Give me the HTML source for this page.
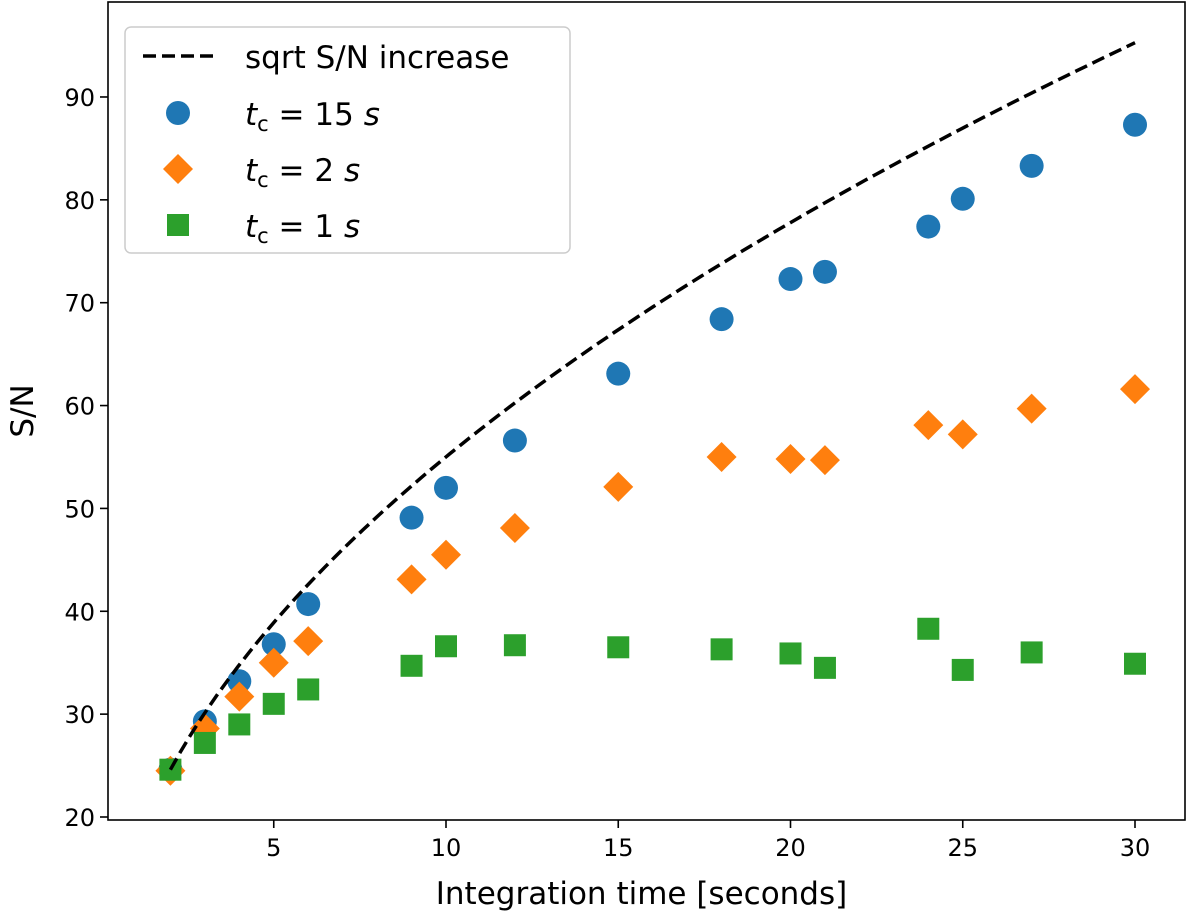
<!DOCTYPE html>
<html><head><meta charset="utf-8"><style>
body{margin:0;background:#fff;}
svg text{font-family:"DejaVu Sans","Liberation Sans",sans-serif;fill:#000;}
</style></head><body>
<svg id="chart" width="1200" height="913" viewBox="0 0 1200 913" xmlns="http://www.w3.org/2000/svg">
<g id="plot"></g>
</svg>
<script>
const xs = [2,3,4,5,6,9,10,12,15,18,20,21,24,25,27,30];
const blueY = [24.6,29.3,33.2,36.8,40.7,49.1,52.0,56.6,63.1,68.4,72.3,73.0,77.4,80.1,83.3,87.3];
const orangeY = [24.5,28.6,31.7,35.0,37.1,43.1,45.5,48.1,52.1,55.0,54.8,54.7,58.1,57.2,59.7,61.6];
const greenY = [24.6,27.2,29.0,31.0,32.4,34.7,36.6,36.7,36.5,36.3,35.9,34.5,38.3,34.3,36.0,34.9];
const sqrtBase = 24.6;
const xTicks = [5,10,15,20,25,30];
const yTicks = [20,30,40,50,60,70,80,90];

const NS="http://www.w3.org/2000/svg";
const L=108,R=1185,T=2,B=820;
const X=v=>446+(v-10)*34.45;
const Y=v=>817-(v-20)*10.286;
const svg=document.getElementById('plot');
function mk(tag,attrs,parent){const e=document.createElementNS(NS,tag);for(const k in attrs)e.setAttribute(k,attrs[k]);(parent||svg).appendChild(e);return e;}

const fr=mk('rect',{x:L,y:T,width:R-L,height:B-T,fill:'none',stroke:'#000','stroke-width':1.6});



xTicks.forEach(t=>{
  const l=mk('line',{x1:X(t),x2:X(t),y1:B,y2:B+8,stroke:'#000','stroke-width':1.6});
  
  
  const tx=mk('text',{x:X(t),y:B+36,'font-size':24,'text-anchor':'middle'});tx.textContent=t;
  
  
});
yTicks.forEach(t=>{
  const l=mk('line',{x1:L-8,x2:L,y1:Y(t),y2:Y(t),stroke:'#000','stroke-width':1.6});
  
  
  const tx=mk('text',{x:L-13,y:Y(t)+9,'font-size':24,'text-anchor':'end'});tx.textContent=t;
  
  
});
const xl=mk('text',{x:(L+R)/2-5,y:904,'font-size':31,'text-anchor':'middle'});xl.textContent='Integration time [seconds]';


const yl=mk('text',{x:0,y:0,'font-size':31,'text-anchor':'middle',transform:'translate(33,411) rotate(-90)'});yl.textContent='S/N';



function circle(cx,cy,g){return mk('circle',{cx:cx,cy:cy,r:12,fill:'#1f77b4'},g);}
function diamond(cx,cy,g){const s=15;return mk('polygon',{points:`${cx},${cy-s} ${cx+s},${cy} ${cx},${cy+s} ${cx-s},${cy}`,fill:'#ff7f0e'},g);}
function square(cx,cy,g){const s=11;return mk('rect',{x:cx-s,y:cy-s,width:2*s,height:2*s,fill:'#2ca02c'},g);}

const series=[[blueY,circle,'blue'],[orangeY,diamond,'orange'],[greenY,square,'green']];
series.forEach(([ys,f,n])=>{
  const g=mk('g',{});
  
  
  xs.forEach((x,i)=>{const m=f(X(x),Y(ys[i]),g);
    
    });
});

let d='';
for(let i=0;i<=100;i++){const x=2+28*i/100;const y=sqrtBase*Math.sqrt(x/2);d+=(i?'L':'M')+X(x).toFixed(1)+','+Y(y).toFixed(1);}
const p=mk('path',{d:d,fill:'none',stroke:'#000','stroke-width':3.5,'stroke-dasharray':'13,6'});



const lg=mk('g',{});


mk('rect',{x:125,y:27,width:445,height:226,rx:6,fill:'#fff','fill-opacity':0.8,stroke:'#ccc','stroke-width':1.5},lg);
mk('line',{x1:143,x2:213,y1:56,y2:56,stroke:'#000','stroke-width':3.5,'stroke-dasharray':'13,6'},lg);
circle(178,113,lg);diamond(178,169,lg);square(178,225,lg);
const lt=[['sqrt S/N increase',68,false],['15',125,true],['2',181,true],['1',237,true]];
lt.forEach(([s,y,m])=>{
  const t=mk('text',{x:245,y:y,'font-size':31},lg);
  if(m){t.innerHTML=`<tspan font-style="italic">t</tspan><tspan font-size="21" dy="6">c</tspan><tspan dy="-6"> = ${s}</tspan><tspan font-style="italic"> s</tspan>`;}
  else t.textContent=s;
  
  
});
</script>
</body></html>
